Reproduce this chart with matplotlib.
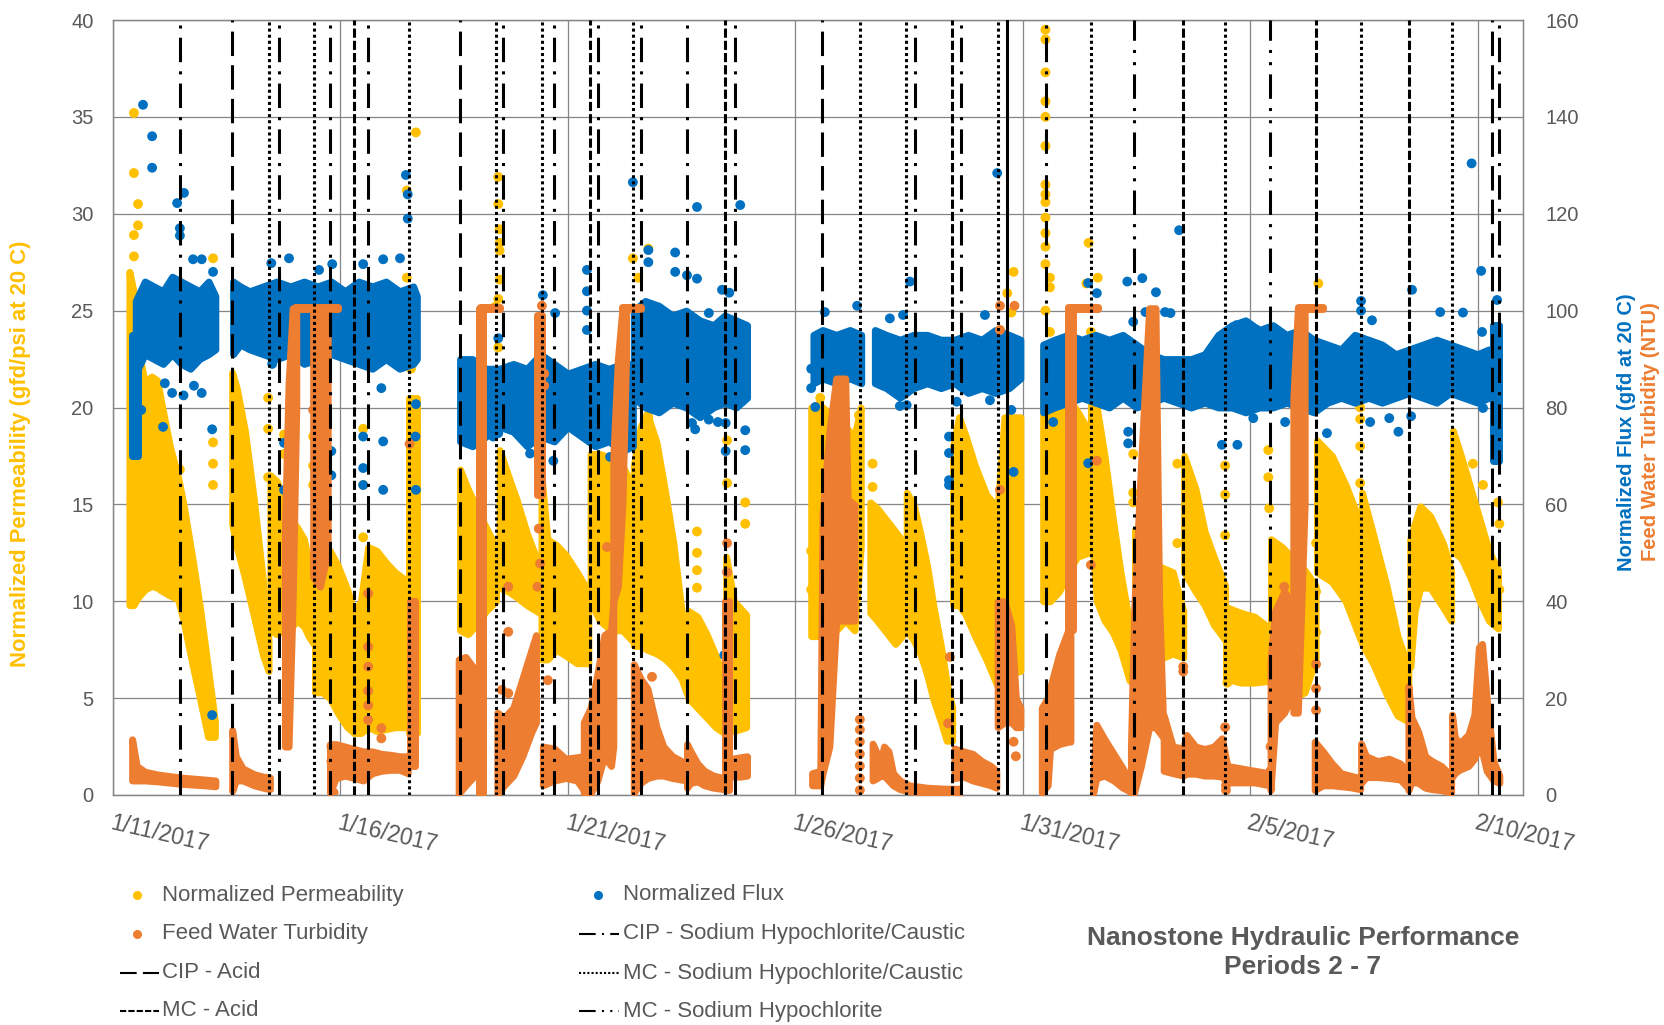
import matplotlib
matplotlib.use("Agg")
import matplotlib.pyplot as plt
from matplotlib.lines import Line2D

plt.rcParams['font.family'] = ['Liberation Sans', 'DejaVu Sans']

YELLOW = '#FFC000'
BLUE = '#0070C0'
ORANGE = '#ED7D31'
TXT = '#595959'
GRID = '#868686'

# ---- time axis: days after 1/11/2017 00:00 ----
tick_days = [0, 5, 10, 15, 20, 25, 30]
tick_labels = ['1/11/2017', '1/16/2017', '1/21/2017', '1/26/2017',
               '1/31/2017', '2/5/2017', '2/10/2017']

# ---- cleaning events (day offsets) ----
cip_acid_days = [2.62, 7.63, 15.59, 30.32]
mc_acid_days = [5.30, 10.49, 13.46, 18.45, 23.53, 26.45, 28.50]
cip_hypo_caustic_days = [1.47, 3.65, 4.77, 5.61, 8.58, 9.70, 10.66, 11.61,
                         12.62, 13.68, 17.63, 18.65, 20.51, 30.48]
mc_hypo_caustic_days = [3.43, 4.42, 6.51, 8.42, 9.43, 11.43, 16.42, 17.44,
                        19.46, 21.50, 24.45, 27.44, 29.44]
mc_hypo_days = [22.45, 25.44]
period_break_days = [19.66]

# ---- Normalized Permeability (gfd/psi): dense runs as (day, low, high) ----
perm_a = [(0.36, 9.8, 27.0), (0.45, 9.8, 26.0), (0.55, 10.2, 23.0), (0.70, 10.6, 21.3),
          (0.85, 10.8, 21.6), (0.97, 10.7, 21.4), (1.10, 10.5, 19.8), (1.25, 10.3, 18.0),
          (1.43, 10.1, 16.4), (1.55, 9.0, 15.0), (1.76, 6.6, 12.0), (1.91, 5.0, 9.7),
          (2.09, 3.0, 6.5), (2.24, 3.0, 3.8)]
perm_b1 = [(2.62, 14.0, 21.8), (2.72, 12.8, 21.0), (2.9, 11.2, 18.8), (3.1, 9.2, 15.2),
           (3.3, 7.2, 11.0), (3.42, 6.4, 8.0)]
perm_b2 = [(3.46, 8.5, 16.5), (3.6, 8.3, 16.2), (3.75, 8.5, 15.2), (3.9, 8.6, 14.3),
           (4.05, 9.0, 13.8), (4.2, 8.7, 13.2), (4.3, 8.2, 12.0), (4.41, 7.8, 10.0)]
perm_b3 = [(4.44, 5.3, 12.6), (4.6, 5.3, 12.4), (4.77, 5.0, 12.6), (4.95, 4.2, 11.8),
           (5.15, 3.5, 10.6), (5.3, 3.2, 9.4), (5.45, 3.2, 10.0), (5.61, 3.5, 12.8),
           (5.8, 3.3, 12.6), (6.0, 3.4, 12.0), (6.2, 3.5, 11.5), (6.48, 3.5, 11.0)]
perm_b4 = [(6.5, 3.2, 20.5), (6.68, 3.2, 20.5)]
perm_c1 = [(7.63, 8.5, 16.8), (7.8, 8.3, 15.8), (8.0, 8.8, 14.8), (8.2, 9.5, 13.8),
           (8.42, 10.0, 12.8)]
perm_c2 = [(8.5, 10.7, 17.8), (8.7, 10.5, 16.4), (8.88, 10.2, 15.2), (9.1, 9.8, 13.5),
           (9.38, 9.4, 11.8)]
perm_c3 = [(9.42, 7.0, 16.5), (9.55, 7.0, 13.2), (9.75, 7.5, 12.9), (9.95, 7.2, 12.4),
           (10.2, 6.8, 11.5), (10.45, 6.8, 10.5)]
perm_c4 = [(10.5, 10.0, 17.6), (10.7, 9.0, 17.6), (10.95, 8.5, 17.4), (11.2, 8.5, 17.0),
           (11.4, 8.0, 16.0)]
perm_c5 = [(11.45, 7.7, 17.0), (11.6, 7.7, 19.0), (11.74, 7.5, 19.7), (11.95, 7.3, 18.2),
           (12.15, 7.0, 15.5), (12.32, 6.6, 13.0), (12.5, 6.0, 9.5), (12.62, 5.2, 7.0)]
perm_c6 = [(12.65, 5.0, 9.5), (12.85, 4.5, 9.2), (13.05, 4.0, 8.3), (13.25, 3.5, 7.2),
           (13.44, 3.2, 6.0)]
perm_c7 = [(13.48, 3.4, 12.3), (13.65, 3.3, 10.0), (13.92, 3.5, 9.3)]
perm_d1 = [(15.35, 8.2, 20.0), (15.5, 8.2, 20.2), (15.7, 8.0, 19.8), (15.9, 8.5, 19.4),
           (16.1, 9.0, 19.0), (16.3, 8.5, 18.5), (16.44, 12.8, 20.0)]
perm_d2 = [(16.65, 9.4, 15.1), (16.8, 9.0, 14.8), (17.0, 8.4, 14.2), (17.2, 7.8, 13.6),
           (17.42, 8.4, 12.9)]
perm_d3 = [(17.45, 8.5, 15.6), (17.6, 8.0, 15.0), (17.75, 7.3, 13.5), (17.9, 6.2, 11.8),
           (18.04, 4.9, 9.7), (18.2, 3.8, 7.7), (18.33, 2.8, 5.8), (18.45, 2.8, 4.5)]
perm_d4 = [(18.47, 9.8, 18.0), (18.6, 9.8, 19.5), (18.75, 9.3, 18.5), (18.95, 8.2, 17.0),
           (19.2, 7.0, 15.5), (19.45, 5.6, 14.8), (19.6, 6.2, 19.5), (19.95, 6.4, 19.5)]
perm_e1 = [(20.45, 10.0, 23.0), (20.6, 10.0, 22.0), (20.8, 10.5, 21.0), (21.0, 11.5, 20.5),
           (21.2, 12.3, 19.8), (21.45, 12.5, 18.8)]
perm_e2 = [(21.5, 14.0, 20.5), (21.63, 10.0, 20.0), (21.8, 9.0, 17.5), (21.98, 8.4, 14.3),
           (22.15, 7.5, 11.5), (22.35, 5.9, 8.8), (22.45, 5.8, 7.8)]
perm_e3 = [(22.47, 5.8, 13.7), (22.7, 6.3, 12.5), (23.0, 7.0, 11.8), (23.3, 7.3, 11.5),
           (23.53, 7.1, 9.5)]
perm_e4 = [(23.55, 11.5, 17.5), (23.8, 10.5, 15.8), (24.0, 9.8, 13.6), (24.2, 8.8, 12.3),
           (24.45, 8.0, 10.8)]
perm_e5 = [(24.47, 6.0, 9.7), (24.8, 5.8, 9.4), (25.1, 5.8, 9.2), (25.43, 5.9, 8.6)]
perm_e6 = [(25.46, 6.0, 13.2), (25.7, 5.5, 12.8), (25.95, 5.0, 12.2), (26.2, 5.3, 11.6),
           (26.44, 7.0, 10.8)]
perm_e7 = [(26.47, 11.5, 18.3), (26.8, 11.0, 17.5), (27.1, 10.0, 16.0), (27.43, 8.0, 14.0)]
perm_e8 = [(27.46, 7.8, 15.6), (27.7, 6.8, 13.5), (28.0, 5.2, 10.8), (28.24, 4.1, 8.2),
           (28.48, 3.8, 6.6)]
perm_e9 = [(28.52, 6.6, 13.2), (28.62, 9.5, 14.0), (28.74, 10.7, 14.9), (28.96, 10.7, 14.4),
           (29.24, 9.7, 13.0), (29.42, 9.0, 11.6)]
perm_e10 = [(29.46, 12.6, 18.8), (29.65, 12.2, 17.4), (29.85, 11.2, 15.8), (30.05, 10.0, 14.2),
            (30.25, 9.0, 12.6), (30.45, 8.6, 11.6)]
perm_bands = [perm_a, perm_b1, perm_b2, perm_b3, perm_b4, perm_c1, perm_c2, perm_c3,
              perm_c4, perm_c5, perm_c6, perm_c7, perm_d1, perm_d2, perm_d3, perm_d4,
              perm_e1, perm_e2, perm_e3, perm_e4, perm_e5, perm_e6, perm_e7, perm_e8,
              perm_e9, perm_e10]

# isolated permeability readings (day, gfd/psi)
perm_points = [(0.46, 35.2), (0.46, 32.1), (0.55, 30.5), (0.55, 29.4), (0.46, 28.9), (0.46, 27.8),
               (2.2, 27.7), (2.2, 18.2), (2.2, 17.1), (2.2, 16.0), (1.47, 16.8), (1.47, 10.3),
               (3.41, 20.5), (3.41, 18.9), (3.41, 16.4), (3.76, 18.6), (3.76, 17.6), (4.4, 18.5),
               (4.4, 17.0), (4.4, 16.0), (5.5, 18.9), (5.5, 16.0), (5.5, 13.3), (6.66, 34.2),
               (6.46, 31.2), (6.46, 26.7), (6.5, 24.5), (6.55, 22.0),
               (8.47, 31.9), (8.47, 30.5), (8.5, 29.2), (8.5, 28.5), (8.5, 28.1), (8.5, 26.6),
               (8.47, 25.6), (8.4, 25.2), (8.47, 23.1), (8.5, 21.8), (8.52, 20.0),
               (11.43, 27.7), (11.55, 26.7), (11.77, 28.2), (11.5, 22.8), (11.5, 21.7),
               (11.77, 20.9), (11.77, 19.5), (13.5, 18.3), (13.5, 16.1), (13.9, 15.1),
               (13.9, 14.0), (12.84, 13.6), (12.84, 12.5), (12.84, 11.6), (12.84, 10.7),
               (15.45, 22.0), (15.55, 23.8), (15.55, 20.5), (16.4, 19.6), (15.35, 12.6),
               (15.35, 10.6), (16.7, 17.1), (16.7, 15.9), (19.66, 25.9), (19.8, 27.0),
               (19.75, 24.9), (19.5, 24.0),
               (20.5, 39.5), (20.5, 39.0), (20.5, 37.3), (20.5, 35.8), (20.5, 35.0),
               (20.5, 33.5), (20.5, 31.5), (20.5, 31.0), (20.5, 30.6), (20.5, 29.8),
               (20.5, 29.0), (20.5, 28.3), (20.5, 27.4), (20.6, 26.7), (20.6, 26.2),
               (20.5, 25.0), (20.6, 23.9), (21.45, 28.5), (21.65, 26.7), (21.4, 26.4),
               (21.5, 23.9), (21.5, 22.5), (21.5, 21.0), (22.43, 17.6), (22.43, 15.6),
               (22.43, 15.1), (23.4, 17.1), (23.4, 13.0), (24.45, 17.0), (24.45, 15.5),
               (24.45, 13.4), (24.5, 8.3), (24.5, 5.8), (25.4, 17.8), (25.4, 16.4),
               (25.42, 14.8), (26.5, 26.4), (26.45, 13.0), (26.45, 10.5), (26.45, 8.4),
               (27.42, 20.0), (27.42, 19.4), (27.42, 18.0), (27.42, 16.1), (27.6, 12.3),
               (29.9, 17.1), (30.12, 16.0), (30.45, 15.1), (30.48, 14.0), (30.48, 10.6)]

# ---- Normalized Flux (gfd): dense runs as (day, low, high) ----
flux_a0 = [(0.42, 70, 95), (0.55, 70, 95)]
flux_a = [(0.5, 87, 102), (0.7, 91, 106), (0.9, 90, 105), (1.1, 89, 104), (1.3, 91, 107),
          (1.5, 89, 106), (1.7, 88, 105), (1.9, 90, 104), (2.1, 91, 106), (2.25, 92, 103)]
flux_b = [(2.64, 91, 106), (2.8, 93, 105), (3.0, 92, 104), (3.3, 91, 105), (3.6, 90, 106),
          (3.9, 91, 105), (4.2, 89, 106), (4.5, 90, 105), (4.8, 91, 106), (5.1, 90, 104),
          (5.4, 89, 106), (5.7, 88, 105), (6.0, 90, 106), (6.3, 88, 104), (6.6, 89, 105),
          (6.68, 90, 103)]
flux_c1 = [(7.63, 73, 90), (7.9, 72, 90), (8.2, 74, 88), (8.5, 76, 88), (8.8, 75, 89),
           (9.1, 72, 88), (9.4, 74, 91), (9.7, 73, 89), (10.0, 76, 87), (10.3, 74, 88),
           (10.6, 72, 89), (10.9, 73, 88), (11.2, 71, 89), (11.43, 72, 89)]
flux_c2 = [(11.45, 82, 100), (11.7, 80, 102), (12.0, 79, 101), (12.3, 81, 99), (12.6, 80, 100),
           (12.9, 78, 98), (13.2, 80, 97), (13.45, 81, 99), (13.7, 80, 98), (13.94, 82, 97)]
flux_d1 = [(15.4, 85, 95), (15.6, 86, 96), (15.9, 85, 95), (16.2, 86, 96), (16.45, 85, 95)]
flux_d2 = [(16.75, 85, 96), (17.0, 84, 95), (17.3, 82, 94), (17.6, 84, 95), (17.9, 85, 95),
           (18.2, 84, 94), (18.5, 85, 94), (18.8, 83, 95), (19.1, 84, 94), (19.4, 83, 96),
           (19.7, 84, 95), (19.95, 86, 94)]
flux_e = [(20.45, 79, 93), (20.7, 80, 94), (21.0, 81, 95), (21.3, 82, 94), (21.6, 81, 95),
          (21.9, 80, 94), (22.2, 82, 95), (22.5, 80, 93), (22.8, 81, 91), (23.1, 82, 90),
          (23.4, 81, 90), (23.7, 80, 90), (24.0, 81, 91), (24.3, 80, 95), (24.6, 80, 97),
          (24.9, 79, 98), (25.2, 80, 96), (25.5, 80, 97), (25.8, 81, 95), (26.1, 80, 96),
          (26.4, 79, 94), (26.7, 81, 93), (27.0, 82, 92), (27.3, 81, 95), (27.6, 82, 94),
          (27.9, 81, 93), (28.2, 82, 91), (28.5, 83, 92), (28.8, 82, 93), (29.1, 81, 94),
          (29.4, 83, 93), (29.7, 82, 92), (30.0, 81, 91), (30.25, 82, 92)]
flux_e2 = [(30.35, 69, 97), (30.48, 69, 97)]
flux_bands = [flux_a0, flux_a, flux_b, flux_c1, flux_c2, flux_d1, flux_d2, flux_e, flux_e2]

# isolated flux readings (day, gfd)
flux_points = [(0.66, 142.5), (0.86, 136), (0.86, 129.5), (1.41, 122.2), (1.56, 124.3),
               (1.47, 117), (1.47, 115.5), (1.76, 110.6), (1.95, 110.6), (2.2, 108),
               (0.62, 79.5), (1.1, 76), (2.18, 75.5), (2.18, 16.5), (1.3, 83), (1.55, 82.5),
               (1.78, 84.5), (1.14, 85), (1.95, 83),
               (3.48, 109.8), (3.87, 110.8), (4.53, 108.4), (4.82, 109.6), (5.5, 109.6),
               (5.94, 110.6), (6.31, 110.8), (6.44, 128), (6.48, 124), (6.48, 119), (6.48, 104),
               (3.5, 89), (5.5, 89), (5.9, 84), (5.94, 73), (5.94, 63), (5.5, 74), (5.5, 67.5),
               (5.5, 64), (6.65, 74), (6.66, 63), (3.76, 72.7), (3.76, 63), (4.8, 71),
               (4.8, 66), (6.66, 80.7),
               (9.45, 103.2), (9.72, 99.5), (10.42, 108.4), (10.42, 104), (10.42, 100),
               (10.42, 96), (8.47, 94.3), (11.43, 126.5), (11.77, 112.5), (11.77, 110),
               (12.36, 112), (12.36, 108), (12.62, 107.3), (12.84, 121.4), (12.84, 106.6),
               (13.39, 104.3), (13.55, 103.7), (13.79, 121.8), (13.1, 99.5), (13.44, 28.9),
               (12.73, 76.8), (12.8, 75.5), (13.1, 77.5), (13.3, 77), (13.9, 75.3), (13.9, 71.2),
               (13.47, 76.8), (13.47, 71), (8.47, 74.7), (8.36, 74), (9.17, 70.5), (9.68, 69),
               (10.93, 69.8), (11.37, 72.6),
               (15.65, 99.7), (16.36, 101), (17.08, 98.4), (17.37, 99.1), (17.52, 106),
               (19.17, 99.1), (19.44, 128.4), (15.44, 80.1), (17.3, 80.3), (17.45, 80.5),
               (18.55, 81.2), (19.28, 81.5), (18.38, 74), (18.38, 70.6), (18.38, 65),
               (18.38, 64), (19.8, 66.7), (19.75, 79.5), (15.35, 88), (15.35, 84),
               (21.44, 105.7), (21.63, 103.6), (22.3, 106), (22.63, 106.7), (22.93, 103.8),
               (22.43, 97.7), (22.7, 99.7), (23.13, 99.7), (23.25, 99.5), (23.44, 116.6),
               (24.7, 97), (25.15, 96), (27.44, 102), (27.44, 100), (27.68, 98), (28.56, 104.3),
               (29.18, 99.7), (29.68, 99.6), (29.87, 130.4), (30.08, 108.2), (30.43, 102.2),
               (30.1, 95.6), (30.12, 79.9), (20.67, 77), (21.44, 68.5), (22.32, 75),
               (22.32, 72.6), (24.38, 72.3), (24.72, 72.3), (25.07, 77.8), (25.77, 77),
               (26.69, 74.7), (27.64, 77), (28.06, 77.8), (28.26, 75), (28.54, 78.2)]

# ---- Feed Water Turbidity (NTU): dense runs as (day, low, high) ----
turb_a = [(0.42, 3.0, 11.5), (0.52, 3.0, 6.0), (0.7, 3.0, 4.8), (1.0, 2.8, 4.2),
          (1.5, 2.3, 3.6), (2.0, 2.0, 3.2), (2.25, 1.8, 3.0)]
turb_b1 = [(2.62, 0.8, 13.4), (2.7, 3.0, 8.0), (2.85, 3.0, 5.5), (3.1, 2.0, 4.3),
           (3.3, 1.5, 3.8), (3.45, 1.2, 3.6)]
turb_b2 = [(3.78, 10.0, 55.0), (3.86, 10.0, 85.0), (3.95, 40.0, 100.5), (4.03, 80.0, 100.5)]
turb_b3 = [(4.0, 100.3, 100.7), (4.95, 100.3, 100.7)]
turb_b4 = [(4.4, 45.0, 100.5), (4.55, 43.0, 100.5), (4.72, 50.0, 100.5)]
turb_b5 = [(4.77, 0.5, 10.5), (4.9, 3.5, 10.5), (5.1, 4.0, 10.0), (5.3, 3.5, 9.5),
           (5.5, 3.0, 9.0), (5.7, 4.5, 9.0), (5.9, 5.0, 8.5), (6.1, 5.2, 8.3),
           (6.3, 5.2, 8.0), (6.48, 4.5, 8.0)]
turb_b6 = [(6.52, 6.0, 40.0), (6.64, 6.0, 40.0)]
turb_c1 = [(7.6, 0.3, 28.0), (7.75, 2.0, 28.5), (7.95, 4.0, 26.0)]
turb_c2 = [(8.04, 0.5, 100.5), (8.14, 0.5, 100.5)]
turb_c3 = [(8.07, 100.3, 100.7), (8.5, 100.3, 100.7)]
turb_c4 = [(8.45, 0.3, 17.0), (8.6, 2.0, 16.0), (8.8, 4.0, 18.0), (9.0, 8.0, 24.0),
           (9.2, 13.0, 30.0), (9.3, 15.0, 33.0)]
turb_c5 = [(9.33, 62.0, 99.0), (9.43, 62.0, 99.0)]
turb_c6 = [(9.45, 2.0, 10.0), (9.7, 3.0, 9.6), (9.95, 3.5, 7.5), (10.2, 3.0, 7.8),
           (10.35, 1.0, 8.0)]
turb_c7 = [(10.35, 0.5, 15.0), (10.5, 0.3, 18.0), (10.65, 3.0, 25.0), (10.8, 8.0, 33.0),
           (10.95, 6.0, 34.0), (11.0, 10.0, 40.0)]
turb_c8 = [(11.0, 40.0, 70.0), (11.1, 43.0, 90.0), (11.2, 60.0, 100.5), (11.28, 90.0, 100.5)]
turb_c9 = [(11.2, 100.3, 100.7), (11.6, 100.3, 100.7)]
turb_c10 = [(11.45, 0.5, 27.0), (11.6, 2.5, 24.0), (11.75, 3.5, 22.0), (11.95, 4.0, 14.0),
            (12.1, 4.0, 10.0), (12.3, 3.5, 8.0), (12.6, 3.0, 6.5)]
turb_c11 = [(12.62, 1.5, 10.5), (12.7, 2.5, 9.0), (12.85, 2.8, 6.5), (13.0, 2.0, 5.0),
            (13.2, 1.5, 4.0), (13.44, 1.2, 3.5)]
turb_c12 = [(13.46, 1.0, 40.0), (13.54, 1.0, 40.0)]
turb_c13 = [(13.6, 3.8, 7.5), (13.8, 3.8, 7.8), (13.94, 4.0, 8.0)]
turb_d1 = [(15.37, 2.0, 4.5), (15.55, 2.0, 5.0), (15.6, 4.4, 58.0), (15.75, 10.0, 75.0),
           (15.9, 36.0, 86.0), (16.1, 36.0, 86.0), (16.15, 36.0, 61.0), (16.3, 36.0, 60.0)]
turb_d2 = [(16.7, 3.0, 10.6), (16.8, 3.5, 8.5), (16.88, 4.0, 7.0), (16.95, 4.0, 10.0),
           (17.05, 3.0, 9.0), (17.15, 2.0, 4.5), (17.3, 1.2, 3.0), (17.5, 0.8, 2.0),
           (17.9, 0.5, 1.5), (18.3, 0.4, 1.3), (18.6, 0.3, 1.3)]
turb_d3 = [(18.5, 3.5, 9.6), (18.7, 3.8, 9.0), (18.9, 3.0, 8.5), (19.1, 2.5, 7.0),
           (19.3, 2.0, 6.0), (19.42, 1.5, 5.0)]
turb_d4 = [(19.45, 14.0, 40.0), (19.6, 15.0, 40.0), (19.75, 15.0, 35.0), (19.85, 14.0, 20.0),
           (19.95, 14.0, 18.0)]
turb_e1 = [(20.42, 0.5, 18.0), (20.55, 2.0, 20.0), (20.6, 9.5, 22.0), (20.8, 10.5, 29.0),
           (21.0, 11.0, 34.0), (21.05, 11.0, 36.0)]
turb_e2 = [(21.0, 34.0, 100.5), (21.1, 34.0, 100.5)]
turb_e3 = [(21.0, 100.3, 100.7), (21.66, 100.3, 100.7)]
turb_e4 = [(21.55, 0.5, 4.0), (21.62, 3.5, 14.5), (21.8, 4.0, 11.5), (22.0, 3.0, 8.5),
           (22.2, 1.5, 5.5), (22.35, 0.8, 3.0)]
turb_e5 = [(22.38, 0.5, 10.0), (22.45, 0.5, 38.0), (22.6, 6.0, 68.0), (22.78, 14.0, 100.5),
           (22.92, 14.0, 100.5), (23.0, 13.0, 40.0), (23.08, 12.0, 17.0)]
turb_e6 = [(23.1, 5.0, 16.5), (23.3, 4.5, 10.0), (23.53, 4.0, 9.6), (23.6, 4.4, 12.4),
           (23.8, 4.4, 10.0), (24.0, 4.0, 9.5), (24.2, 4.0, 10.0), (24.38, 3.8, 11.7),
           (24.5, 2.6, 6.0), (24.8, 2.6, 5.5), (25.1, 2.6, 5.0), (25.42, 2.0, 4.5)]
turb_e7 = [(25.45, 1.0, 28.0), (25.55, 15.0, 38.0), (25.75, 17.0, 42.0), (25.9, 20.0, 40.0)]
turb_e8 = [(25.95, 17.0, 82.0), (26.05, 17.0, 100.5), (26.2, 60.0, 100.5)]
turb_e9 = [(26.05, 100.3, 100.7), (26.6, 100.3, 100.7)]
turb_e10 = [(26.42, 1.0, 11.0), (26.6, 2.0, 9.0), (26.8, 2.0, 6.5), (27.0, 1.8, 4.5),
            (27.2, 1.6, 4.0), (27.42, 1.2, 3.5)]
turb_e11 = [(27.44, 2.5, 10.6), (27.55, 3.7, 8.0), (27.8, 3.7, 7.0), (28.05, 3.5, 7.5),
            (28.3, 3.2, 6.5), (28.45, 1.7, 5.0)]
turb_e12 = [(28.48, 1.0, 22.5), (28.55, 2.7, 16.0), (28.7, 2.5, 13.0), (28.85, 1.5, 8.0),
            (29.0, 1.2, 7.0), (29.2, 1.0, 6.0), (29.42, 0.5, 4.0)]
turb_e13 = [(29.44, 3.7, 16.6), (29.5, 4.5, 12.0), (29.6, 5.2, 10.6), (29.8, 6.0, 12.5),
            (29.93, 7.5, 16.5), (30.03, 10.0, 30.5), (30.1, 9.0, 31.2), (30.2, 5.0, 20.0),
            (30.35, 3.0, 7.0), (30.48, 2.5, 4.0)]
turb_bands = [turb_a, turb_b1, turb_b2, turb_b3, turb_b4, turb_b5, turb_b6, turb_c1, turb_c2,
              turb_c3, turb_c4, turb_c5, turb_c6, turb_c7, turb_c8, turb_c9, turb_c10,
              turb_c11, turb_c12, turb_c13, turb_d1, turb_d2, turb_d3, turb_d4, turb_e1,
              turb_e2, turb_e3, turb_e4, turb_e5, turb_e6, turb_e7, turb_e8, turb_e9,
              turb_e10, turb_e11, turb_e12, turb_e13]

# isolated turbidity readings (day, NTU)
turb_points = [(4.45, 81), (4.4, 79.5), (5.61, 41.6), (5.61, 30.6), (5.61, 26.5), (5.61, 21.5),
               (5.61, 18.5), (5.61, 15.5), (5.9, 13.8), (5.9, 11.7), (6.52, 72.5), (4.8, 10),
               (4.8, 7), (4.82, 3), (4.85, 0.5),
               (8.55, 21.7), (8.69, 21), (8.69, 43), (8.69, 33.7), (9.39, 47.8), (9.33, 43),
               (9.36, 55), (9.56, 23.7), (9.43, 101), (9.48, 87), (9.48, 84.5), (9.4, 79.6),
               (9.4, 76.5), (11.85, 24.4), (10.86, 51.2), (13.5, 52), (13.5, 46),
               (15.7, 27), (15.68, 14), (16.42, 15.6), (16.42, 13.5), (16.42, 11), (16.42, 8.5),
               (16.42, 6), (16.42, 3.5), (16.42, 1), (18.36, 14.8), (18.4, 28.5), (19.5, 101),
               (19.82, 101), (19.5, 96), (19.5, 63), (19.8, 11), (19.85, 8),
               (21.63, 69), (21.5, 47.5), (23.53, 26.5), (23.53, 25.5), (24.45, 14.0),
               (24.47, 1.0), (24.47, 2.0), (25.75, 43.0), (26.45, 27.0), (26.45, 22.0),
               (26.45, 17.5), (25.45, 5), (25.45, 10)]

# ---------------------------------------------------------------------------
W, H = 1665, 1025
fig = plt.figure(figsize=(W / 100, H / 100), dpi=100)
ax = fig.add_axes([113 / W, 230 / H, 1410 / W, 775 / H])
ax2 = ax.twinx()
ax2.patch.set_visible(False)

EDGE_LW = 5.0    # rounds band outlines like the plotted dots
DOT_S = 50


def draw_bands(axis, bands, color, z):
    for run in bands:
        t, lo, hi = zip(*run)
        axis.fill_between(t, lo, hi, facecolor=color, edgecolor=color,
                          linewidth=EDGE_LW, joinstyle='round', zorder=z)


def draw_points(axis, pts, color, z):
    t, v = zip(*pts)
    axis.scatter(t, v, s=DOT_S, color=color, edgecolors='none', zorder=z)


draw_bands(ax, perm_bands, YELLOW, 2)
draw_points(ax, perm_points, YELLOW, 2)
draw_bands(ax2, flux_bands, BLUE, 2)
draw_points(ax2, flux_points, BLUE, 2)
draw_bands(ax2, turb_bands, ORANGE, 3)
draw_points(ax2, turb_points, ORANGE, 3)

# cleaning event markers
LW = 2.2
styles = {
    'cip_acid': (0, (8, 3)),
    'mc_acid': (0, (3, 1)),
    'cip_hc': (0, (8, 3, 1, 3)),
    'mc_hc': (0, (1, 1)),
    'mc_h': (0, (8, 3, 1, 3, 1, 3)),
}
for days, key in [(cip_acid_days, 'cip_acid'), (mc_acid_days, 'mc_acid'),
                  (cip_hypo_caustic_days, 'cip_hc'), (mc_hypo_caustic_days, 'mc_hc'),
                  (mc_hypo_days, 'mc_h')]:
    for d in days:
        ax2.axvline(d, color='black', lw=LW, linestyle=styles[key], zorder=6)
for d in period_break_days:
    ax2.axvline(d, color='black', lw=LW, zorder=6)

# axes, grid, ticks
ax.set_xlim(0, 31)
ax.set_ylim(0, 40)
ax2.set_ylim(0, 160)
ax.set_yticks(range(0, 41, 5))
ax2.set_yticks(range(0, 161, 20))
ax.set_xticks(tick_days)
ax.set_xticklabels(tick_labels, rotation=-13, ha='left', va='top',
                   rotation_mode='anchor')
ax.set_axisbelow(True)
ax.grid(True, color=GRID, lw=0.9)
for a in (ax, ax2):
    for s in a.spines.values():
        s.set_color(GRID)
        s.set_linewidth(0.9)
ax.tick_params(axis='y', length=0, pad=14, labelsize=14.5, labelcolor=TXT)
ax.tick_params(axis='x', length=0, pad=12, labelsize=16.5, labelcolor=TXT)
ax2.tick_params(axis='y', length=0, pad=16, labelsize=14.5, labelcolor=TXT)

# axis titles
fig.text(21 / W, 1 - 454 / H, 'Normalized Permeability (gfd/psi at 20 C)',
         rotation=90, ha='center', va='center', color=YELLOW,
         fontsize=15.8, fontweight='bold')
fig.text(1627 / W, 1 - 432 / H, 'Normalized Flux (gfd at 20 C)',
         rotation=90, ha='center', va='center', color=BLUE,
         fontsize=14.5, fontweight='bold')
fig.text(1651 / W, 1 - 432 / H, 'Feed Water Turbidity (NTU)',
         rotation=90, ha='center', va='center', color=ORANGE,
         fontsize=14.5, fontweight='bold')

# chart title
fig.text(1303 / W, 1 - 938 / H, 'Nanostone Hydraulic Performance', ha='center',
         va='center', color=TXT, fontsize=19, fontweight='bold')
fig.text(1303 / W, 1 - 967 / H, 'Periods 2 - 7', ha='center',
         va='center', color=TXT, fontsize=19, fontweight='bold')

# legend
rows = [895, 934, 973, 1011]
legend_cols = [
    (137, 120, 159, 162, [('dot', YELLOW, 'Normalized Permeability'),
                          ('dot', ORANGE, 'Feed Water Turbidity'),
                          ('line', 'cip_acid', 'CIP - Acid'),
                          ('line', 'mc_acid', 'MC - Acid')]),
    (598, 579, 619, 623, [('dot', BLUE, 'Normalized Flux'),
                          ('line', 'cip_hc', 'CIP - Sodium Hypochlorite/Caustic'),
                          ('line', 'mc_hc', 'MC - Sodium Hypochlorite/Caustic'),
                          ('line', 'mc_h', 'MC - Sodium Hypochlorite')]),
]
for dot_x, l0, l1, text_x, entries in legend_cols:
    for y, (kind, spec, label) in zip(rows, entries):
        fy = 1 - y / H
        if kind == 'dot':
            fig.add_artist(Line2D([dot_x / W], [fy], transform=fig.transFigure,
                                  marker='o', ms=5.5, color=spec, linestyle='none'))
        else:
            fig.add_artist(Line2D([l0 / W, l1 / W], [fy, fy], transform=fig.transFigure,
                                  color='black', lw=1.5, linestyle=styles[spec]))
        fig.text(text_x / W, fy, label, ha='left', va='center', color=TXT, fontsize=16)

fig.savefig('out.png', dpi=100)
